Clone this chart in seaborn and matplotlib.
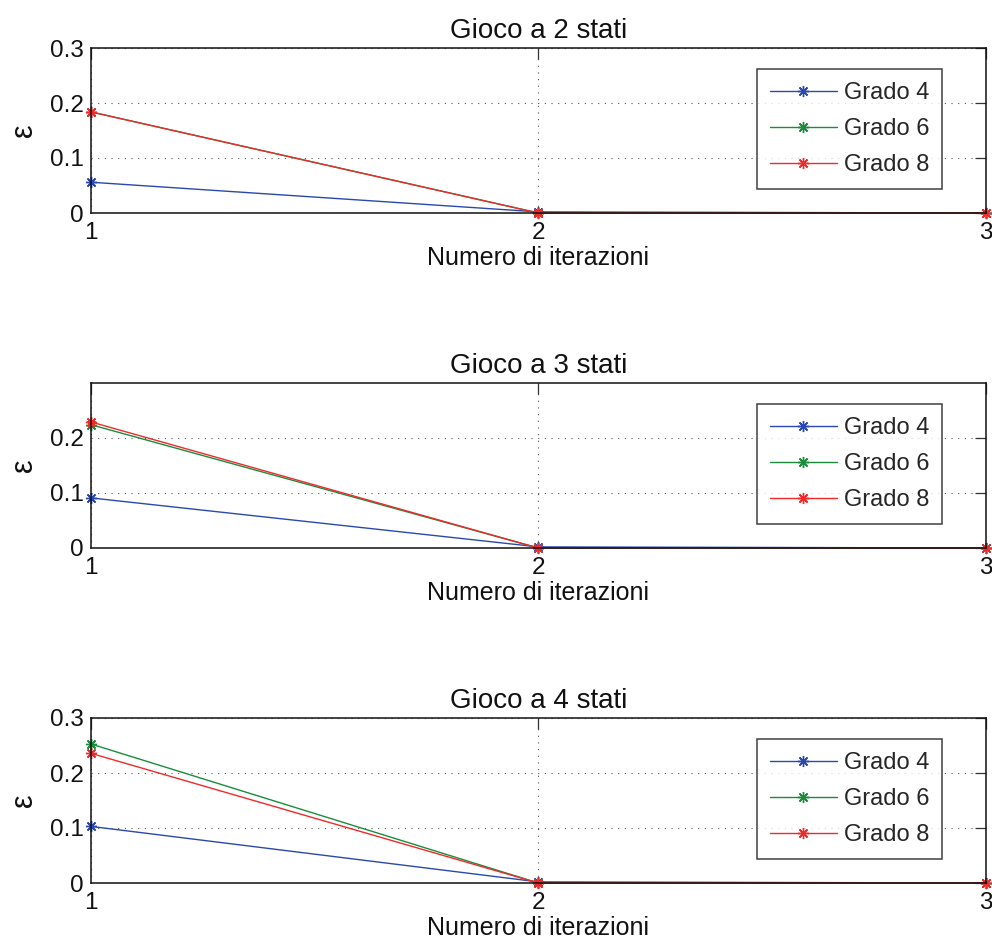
import matplotlib
matplotlib.use("Agg")
import matplotlib.pyplot as plt
import seaborn as sns
import pandas as pd

iterations = [1, 2, 3]
series_names = ["Grado 4", "Grado 6", "Grado 8"]
titles = ["Gioco a 2 stati", "Gioco a 3 stati", "Gioco a 4 stati"]

g2_grado4 = [0.056, 0.002, 0.0]
g2_grado6 = [0.184, 0.0, 0.0]
g2_grado8 = [0.184, 0.0, 0.0]

g3_grado4 = [0.091, 0.002, 0.0]
g3_grado6 = [0.224, 0.0, 0.0]
g3_grado8 = [0.229, 0.0, 0.0]

g4_grado4 = [0.103, 0.002, 0.0]
g4_grado6 = [0.253, 0.0, 0.0]
g4_grado8 = [0.236, 0.0, 0.0]

ylims = [0.3, 0.2995, 0.3]
yticks_list = [[0, 0.1, 0.2, 0.3], [0, 0.1, 0.2], [0, 0.1, 0.2, 0.3]]

panels = [
    [g2_grado4, g2_grado6, g2_grado8],
    [g3_grado4, g3_grado6, g3_grado8],
    [g4_grado4, g4_grado6, g4_grado8],
]

sns.set_theme(style="white")
plt.rcParams['font.family'] = ['Liberation Sans', 'DejaVu Sans']
colors = ["#2a48b0", "#1a8c3c", "#ee2a2a"]
palette = dict(zip(series_names, colors))
asterisk = (8, 2, 0)

fig = plt.figure(figsize=(9.92, 9.40), dpi=100)
W, H = 992, 940
left_px, right_px = 90.5, 986
bottoms_px = [213, 548, 883]
height_px = 165

for i, (vals, title) in enumerate(zip(panels, titles)):
    b = bottoms_px[i]
    ax = fig.add_axes([left_px / W, 1 - b / H, (right_px - left_px) / W, height_px / H])
    rows = []
    for name, v in zip(series_names, vals):
        for x, y in zip(iterations, v):
            rows.append({"iter": x, "eps": y, "serie": name})
    df = pd.DataFrame(rows)
    sns.lineplot(data=df, x="iter", y="eps", hue="serie", palette=palette,
                 marker=asterisk, markersize=8, markeredgewidth=1.0, linewidth=1.0,
                 ax=ax, clip_on=False, legend=True)
    for ln in ax.lines:
        ln.set_markeredgecolor(ln.get_color())
    ax.set_xlim(1, 3)
    ax.set_ylim(0, ylims[i])
    ax.set_xticks(iterations)
    ax.set_xticklabels([str(x) for x in iterations])
    ax.set_yticks(yticks_list[i])
    ax.set_yticklabels([("0" if t == 0 else f"{t:.1f}") for t in yticks_list[i]])
    ax.tick_params(which="major", direction="in", length=8, width=0.9, color="#333333",
                   top=True, right=True, labelsize=17.5, pad=5, labelcolor="#111111")
    ax.tick_params(axis="x", pad=6.5)
    ax.grid(True, which="major", linestyle=(0, (1, 5)), color="#555555", linewidth=0.8)
    for sp in ax.spines.values():
        sp.set_color("#111111")
        sp.set_linewidth(1.1)
    ax.set_title(title, fontsize=20, color="#111111", pad=7)
    ax.set_xlabel("Numero di iterazioni", fontsize=18, color="#111111", labelpad=1.5)
    ax.set_ylabel("ε", fontsize=22, color="#111111")
    ax.yaxis.set_label_coords(-0.058, 0.5)
    leg = ax.legend(loc="upper right", bbox_to_anchor=(0.951, 0.873), fontsize=17,
                    frameon=True, fancybox=False, edgecolor="#111111",
                    handlelength=2.8, handletextpad=0.3, borderpad=0.55,
                    labelspacing=0.6, borderaxespad=0)
    leg.get_frame().set_linewidth(1.1)

fig.savefig("out.png", dpi=100, facecolor="white")
